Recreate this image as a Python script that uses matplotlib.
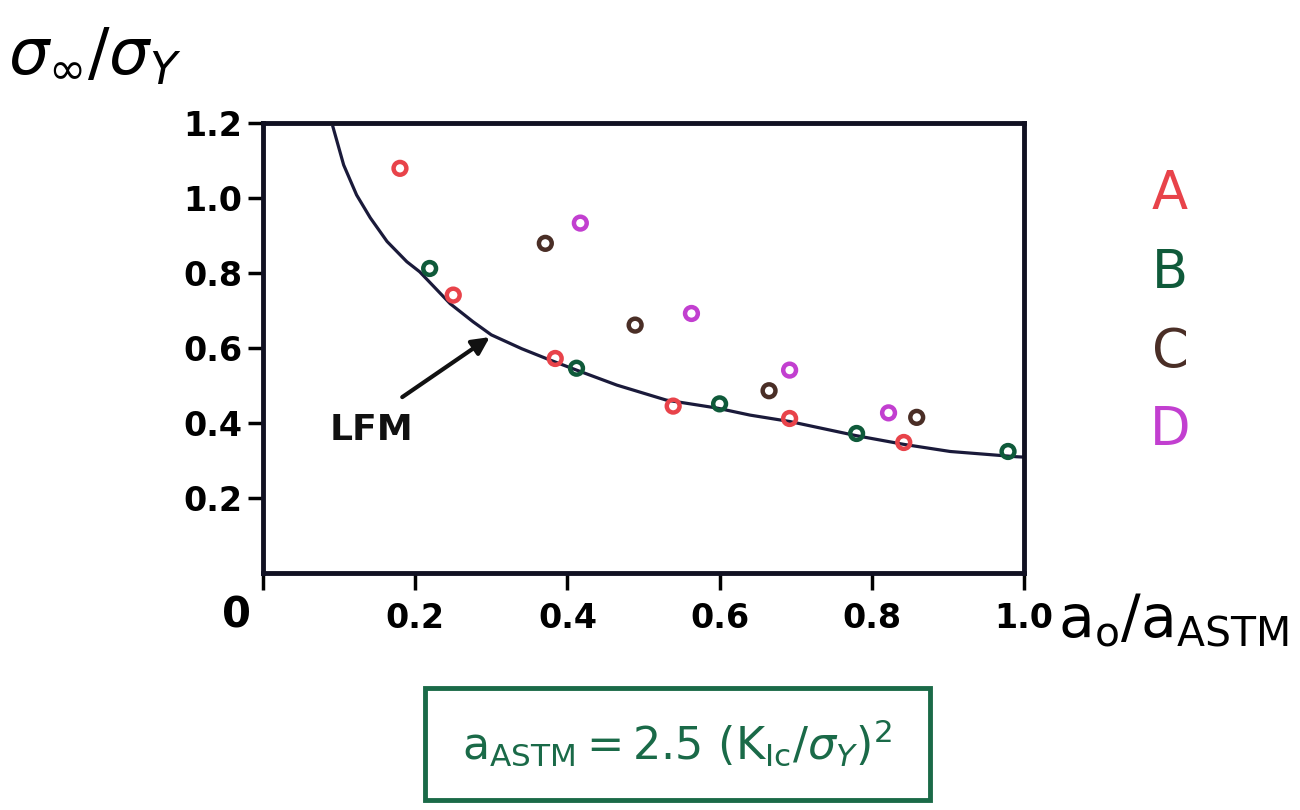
import matplotlib.pyplot as plt
from matplotlib.patches import Rectangle

# data
a_x = [0.180, 0.250, 0.384, 0.539, 0.692, 0.842]
a_y = [1.079, 0.741, 0.572, 0.445, 0.412, 0.348]
b_x = [0.219, 0.412, 0.600, 0.780, 0.979]
b_y = [0.812, 0.546, 0.451, 0.372, 0.324]
c_x = [0.371, 0.489, 0.665, 0.859]
c_y = [0.879, 0.661, 0.486, 0.415]
d_x = [0.417, 0.563, 0.692, 0.822]
d_y = [0.933, 0.692, 0.541, 0.427]
# LFM curve traced point by point
lfm_x = [0.092, 0.106, 0.123, 0.141, 0.163, 0.189, 0.206, 0.246, 0.276, 0.300,
         0.340, 0.377, 0.412, 0.465, 0.530, 0.596, 0.640, 0.692, 0.780, 0.842,
         0.903, 0.990, 1.000]
lfm_y = [1.189, 1.088, 1.008, 0.947, 0.884, 0.830, 0.803, 0.718, 0.670, 0.635,
         0.598, 0.568, 0.541, 0.501, 0.461, 0.440, 0.421, 0.404, 0.366, 0.343,
         0.324, 0.310, 0.309]

series = ['A', 'B', 'C', 'D']
colors = ['#e8434a', '#0f5a3a', '#4a2e26', '#c23fd0']
xticks = [0.0, 0.2, 0.4, 0.6, 0.8, 1.0]
xlabels = ['', '0.2', '0.4', '0.6', '0.8', '1.0']
yticks = [0.2, 0.4, 0.6, 0.8, 1.0, 1.2]
ylabels = ['0.2', '0.4', '0.6', '0.8', '1.0', '1.2']

fig = plt.figure(figsize=(13, 8.1), dpi=100)
ax = fig.add_axes([0.2023, 0.2926, 0.5854, 0.5556])

ax.plot(lfm_x, lfm_y, color='#1a1a3a', lw=2.3)
for xs, ys, col in zip([a_x, b_x, c_x, d_x], [a_y, b_y, c_y, d_y], colors):
    ax.scatter(xs, ys, s=85, facecolors='none', edgecolors=col, linewidths=3.2, zorder=3)

ax.set_xlim(0, 1.0)
ax.set_ylim(0, 1.2)
for s in ax.spines.values():
    s.set_linewidth(3.5)
    s.set_color('#111122')

ax.set_xticks(xticks)
ax.set_xticklabels(xlabels)
ax.set_yticks(yticks)
ax.set_yticklabels(ylabels)
ax.tick_params(axis='x', direction='out', length=12, width=2.5, labelsize=24, pad=9)
ax.tick_params(axis='y', direction='out', length=11, width=2.5, labelsize=24, pad=4)
for lab in ax.get_xticklabels() + ax.get_yticklabels():
    lab.set_fontweight('bold')

# LFM label with arrow
ax.text(0.143, 0.381, 'LFM', fontsize=26, fontweight='bold', ha='center', va='center',
        color='#111111')
ax.annotate('', xy=(0.298, 0.629), xytext=(0.183, 0.469),
            arrowprops=dict(arrowstyle='-|>', color='#111111', lw=3,
                            mutation_scale=26, shrinkA=0, shrinkB=0))

# origin label, axis labels
fig.text(0.182, 0.24, '0', fontsize=30, fontweight='bold', ha='center', va='center')
fig.text(0.006, 0.93, r'$\sigma_\infty/\sigma_Y$', fontsize=46, ha='left', va='center')
fig.text(0.814, 0.235, r'$\mathrm{a_o/a_{ASTM}}$', fontsize=42, ha='left', va='center')

# series letters
for i, (name, col) in enumerate(zip(series, colors)):
    fig.text(0.9, 0.76 - i * 0.097, name, fontsize=38, color=col, ha='center', va='center')

# boxed formula
green = '#1a6a48'
fig.add_artist(Rectangle((0.327, 0.0125), 0.388, 0.138, transform=fig.transFigure,
                         fill=False, edgecolor=green, lw=3.5))
fig.text(0.521, 0.082, r'$\mathrm{a_{ASTM}} = 2.5\ (\mathrm{K_{Ic}}/\sigma_Y)^2$', fontsize=32,
         color=green, ha='center', va='center')

fig.savefig('out.png', dpi=100, facecolor='white')
